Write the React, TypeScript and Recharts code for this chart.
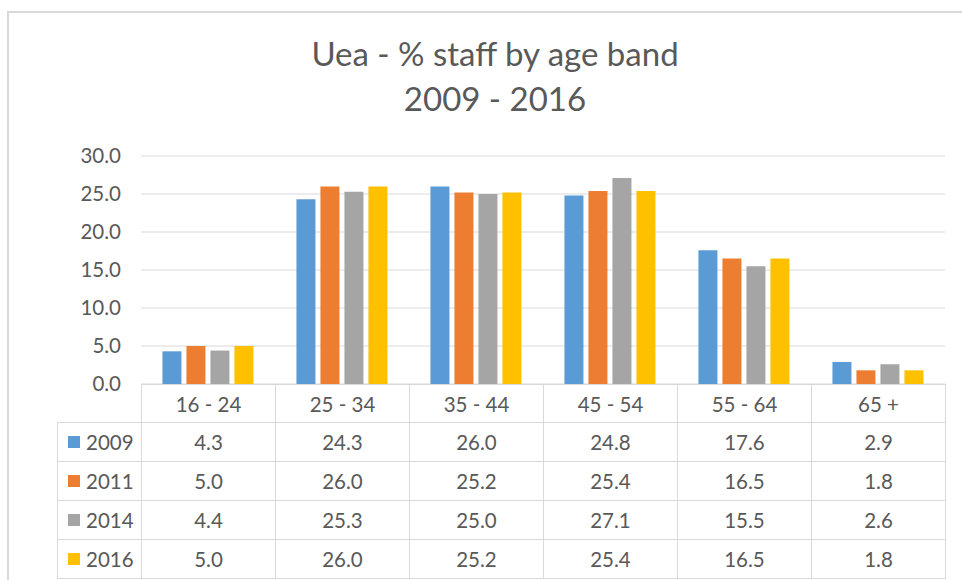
import { BarChart, Bar, XAxis, YAxis, CartesianGrid } from "recharts";

const ageBands = ["16 - 24", "25 - 34", "35 - 44", "45 - 54", "55 - 64", "65 +"];
const years = ["2009", "2011", "2014", "2016"];
const v2009 = [4.3, 24.3, 26.0, 24.8, 17.6, 2.9];
const v2011 = [5.0, 26.0, 25.2, 25.4, 16.5, 1.8];
const v2014 = [4.4, 25.3, 25.0, 27.1, 15.5, 2.6];
const v2016 = [5.0, 26.0, 25.2, 25.4, 16.5, 1.8];
const yTicks = [0, 5, 10, 15, 20, 25, 30];

const colors = ["#5B9BD5", "#ED7D31", "#A5A5A5", "#FFC000"];
const series = [v2009, v2011, v2014, v2016];

const data = ageBands.map((band, i) => ({
  band,
  y2009: v2009[i],
  y2011: v2011[i],
  y2014: v2014[i],
  y2016: v2016[i],
}));

const FONT = "Lato, 'Open Sans', sans-serif";
const TEXT = "#595959";
const LINE = "#d9d9d9";

// table geometry (matches plot area: x 141..945, 0-line at y 384)
const plotLeft = 141;
const colW = 134;
const labelLeft = 57;
const headerTop = 384;
const headerH = 38;
const rowH = 39;

const cell = (
  left: number,
  top: number,
  width: number,
  height: number,
  key: string,
  content: React.ReactNode
) => (
  <div
    key={key}
    style={{
      position: "absolute",
      left,
      top,
      width: width + 1,
      height: height + 1,
      boxSizing: "border-box",
      border: `1px solid ${LINE}`,
      display: "flex",
      alignItems: "center",
      justifyContent: "center",
      fontFamily: FONT,
      fontSize: 20.5,
      color: TEXT,
    }}
  >
    {content}
  </div>
);

export default function App() {
  const cells: React.ReactNode[] = [];
  ageBands.forEach((band, c) => {
    cells.push(cell(plotLeft + c * colW, headerTop, colW, headerH, `h${c}`, band));
  });
  years.forEach((yr, r) => {
    const top = headerTop + headerH + r * rowH;
    cells.push(
      cell(
        labelLeft,
        top,
        plotLeft - labelLeft,
        rowH,
        `l${r}`,
        <span style={{ display: "flex", alignItems: "center", width: "100%", paddingLeft: 10 }}>
          <span style={{ width: 12, height: 12, background: colors[r], marginRight: 6 }} />
          {yr}
        </span>
      )
    );
    series[r].forEach((v, c) => {
      cells.push(cell(plotLeft + c * colW, top, colW, rowH, `c${r}-${c}`, v.toFixed(1)));
    });
  });

  return (
    <div style={{ position: "absolute", left: 0, top: 0, width: 962, height: 580, background: "#fff", overflow: "hidden" }}>
      <div
        style={{
          position: "absolute",
          left: 7,
          top: 11,
          width: 1000,
          height: 600,
          border: `2px solid ${LINE}`,
          boxSizing: "border-box",
        }}
      />
      <div
        style={{
          position: "absolute",
          left: 0,
          width: 990,
          top: 31,
          textAlign: "center",
          fontFamily: FONT,
          fontSize: 33,
          lineHeight: "45px",
          color: TEXT,
        }}
      >
        <div>Uea - % staff by age band</div>
        <div>2009 - 2016</div>
      </div>
      <div style={{ position: "absolute", left: 0, top: 0 }}>
        <BarChart
          width={962}
          height={580}
          data={data}
          margin={{ top: 156, right: 17, bottom: 196, left: 81 }}
          barCategoryGap="16%"
          barGap={5}
        >
          <CartesianGrid vertical={false} stroke={LINE} />
          <XAxis dataKey="band" hide />
          <YAxis
            width={60}
            domain={[0, 30]}
            ticks={yTicks}
            tickFormatter={(v: number) => v.toFixed(1)}
            axisLine={false}
            tickLine={false}
            tickMargin={14}
            tick={{ fill: TEXT, fontSize: 20.5, fontFamily: FONT }}
          />
          <Bar dataKey="y2009" fill={colors[0]} isAnimationActive={false} />
          <Bar dataKey="y2011" fill={colors[1]} isAnimationActive={false} />
          <Bar dataKey="y2014" fill={colors[2]} isAnimationActive={false} />
          <Bar dataKey="y2016" fill={colors[3]} isAnimationActive={false} />
        </BarChart>
      </div>
      {cells}
    </div>
  );
}
